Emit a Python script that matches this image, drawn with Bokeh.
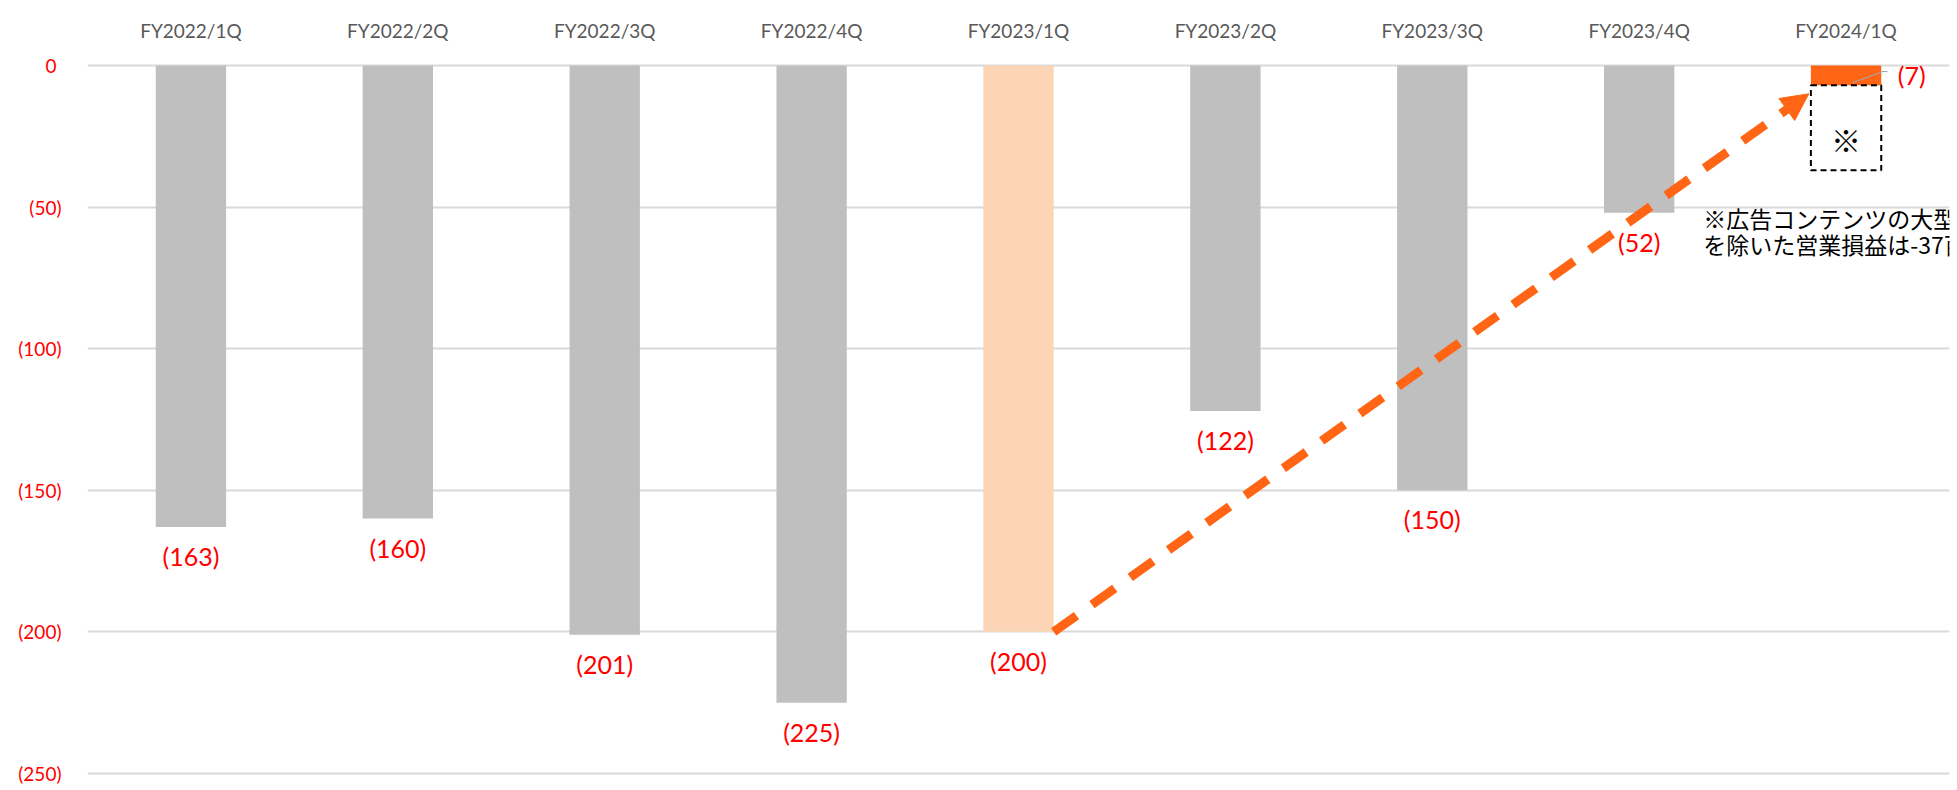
from bokeh.plotting import figure
from bokeh.models import (Range1d, FixedTicker, ColumnDataSource, Arrow, NormalHead, Label)
from bokeh.core.properties import value
from bokeh.embed import file_html
from bokeh.resources import INLINE

# ---- data ----
categories = ["FY2022/1Q", "FY2022/2Q", "FY2022/3Q", "FY2022/4Q", "FY2023/1Q",
              "FY2023/2Q", "FY2023/3Q", "FY2023/4Q", "FY2024/1Q"]
operating_income = [-163, -160, -201, -225, -200, -122, -150, -52, -7]
adjusted_latest = -37          # excluding large ad-content project
y_ticks = [0, -50, -100, -150, -200, -250]
note_lines = ["※広告コンテンツの大型案件の影響", "を除いた営業損益は-37百万円"]

GRAY = "#bfbfbf"
PEACH = "#fbd5b5"
ORANGE = "#ff6515"
RED = "#ff0000"
colors = [GRAY] * 4 + [PEACH] + [GRAY] * 3 + [ORANGE]

xs = [i + 0.5 for i in range(len(categories))]
BAR_W = 0.34

p = figure(width=1957, height=790, output_backend="svg", toolbar_location=None,
           x_range=Range1d(0, len(categories)), y_range=Range1d(-253.2, 1.06),
           x_axis_location="above", min_border_left=87, min_border_right=8,
           min_border_top=62, min_border_bottom=8)
p.outline_line_color = None
p.background_fill_color = "white"
p.border_fill_color = "white"

# axes
p.xaxis.ticker = FixedTicker(ticks=xs)
p.xaxis.major_label_overrides = {x: c for x, c in zip(xs, categories)}
p.xaxis.axis_line_color = None
p.xaxis.major_tick_line_color = None
p.xaxis.minor_tick_line_color = None
p.xaxis.major_label_standoff = 15
p.xaxis.major_label_text_font = "Lato"
p.xaxis.major_label_text_font_size = "19px"
p.xaxis.major_label_text_color = "#595959"

p.yaxis.ticker = FixedTicker(ticks=y_ticks)
p.yaxis.major_label_overrides = {t: ("0\u00a0" if t == 0 else f"({abs(t)})") for t in y_ticks}
p.yaxis.axis_line_color = None
p.yaxis.major_tick_line_color = None
p.yaxis.minor_tick_line_color = None
p.yaxis.major_label_standoff = 20
p.yaxis.major_label_text_font = "Lato"
p.yaxis.major_label_text_font_size = "19px"
p.yaxis.major_label_text_color = RED

p.xgrid.grid_line_color = None
p.ygrid.grid_line_color = "#d9d9d9"
p.ygrid.grid_line_width = 1.8

# bars
src = ColumnDataSource(dict(x=xs, top=[0] * len(xs), bottom=operating_income, color=colors,
                            label=[f"({abs(v)})" for v in operating_income]))
p.vbar(x="x", width=BAR_W, top="top", bottom="bottom", fill_color="color",
       line_color=None, source=src)

# value labels (below bar ends), except last
lab_src = ColumnDataSource(dict(x=xs[:-1], y=operating_income[:-1],
                                label=src.data["label"][:-1]))
p.text(x="x", y="y", text="label", source=lab_src, y_offset=29,
       text_align="center", text_baseline="middle", text_color=RED,
       text_font=value("Lato"), text_font_size="25px")

# last label to the right with leader line
p.text(x=[xs[-1] + 0.25], y=[operating_income[-1] / 2], text=[src.data["label"][-1]],
       text_align="left", text_baseline="middle", text_color=RED,
       text_font=value("Lato"), text_font_size="25px")
p.line(x=[xs[-1] + 0.033, xs[-1] + 0.178, xs[-1] + 0.20],
       y=[operating_income[-1] + 1, operating_income[-1] / 3.3, operating_income[-1] / 3.3],
       line_color="#a6a6a6", line_width=1.2)

# dashed box for adjusted value
p.quad(left=xs[-1] - BAR_W / 2, right=xs[-1] + BAR_W / 2,
       top=operating_income[-1], bottom=adjusted_latest,
       fill_color=None, line_color="black", line_width=2, line_dash="6 4")
p.text(x=[xs[-1]], y=[adjusted_latest + 11], text=["※"], text_align="center",
       text_baseline="middle", text_color="black",
       text_font=value("Noto Sans CJK JP"), text_font_size="30px")

# trend arrow
arrow = Arrow(x_start=xs[4] + BAR_W / 2, y_start=operating_income[4],
              x_end=xs[-1] - 0.18, y_end=-10,
              line_color=ORANGE, line_width=9, line_dash="28 19",
              end=NormalHead(size=27, fill_color=ORANGE, line_color=ORANGE, line_width=1))
p.add_layout(arrow)

# note text
for i, t in enumerate(note_lines):
    p.add_layout(Label(x=7.81, y=-53.7 - 9.2 * i, text=t, text_align="left",
                       text_baseline="middle", text_color="black",
                       text_font="Noto Sans CJK JP", text_font_size="23px"))

open("out.html", "w").write(file_html(p, INLINE))
